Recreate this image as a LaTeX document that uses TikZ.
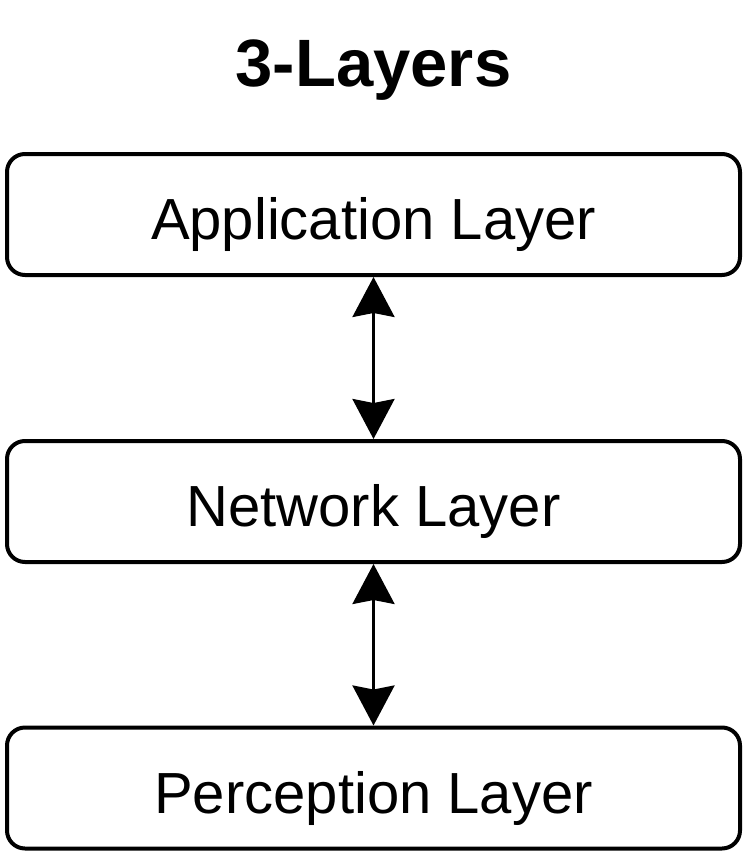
\documentclass[tikz,border=0pt]{standalone}
\usepackage{fontspec}
\setmainfont{Liberation Sans}
\usetikzlibrary{arrows.meta}
\begin{document}
\begin{tikzpicture}[x=1pt,y=1pt,
  layerbox/.style={draw, line width=4pt, rounded corners=18pt,
    minimum width=733pt, minimum height=121pt, inner sep=0pt,
    text height=50pt, text depth=0pt,
    font=\fontsize{58}{62}\selectfont},
  link/.style={line width=3pt, {Stealth[length=40pt,width=42pt,inset=4pt]}-{Stealth[length=40pt,width=42pt,inset=4pt]}}]
  % Rahmen
  \useasboundingbox (0,0) rectangle (747,-856);
  % Titel
  \node[anchor=base, font=\fontsize{67}{70}\selectfont\bfseries] (title) at (373.5,-87) {3-Layers};
  % drei Schichten
  \node[layerbox] (app) at (373.5,-214.5) {Application Layer};
  \node[layerbox] (net) at (373.5,-501.5) {Network Layer};
  \node[layerbox] (per) at (373.5,-788) {Perception Layer};
  % Pfeile zwischen den Schichten
  \draw[link] (app.south) -- (net.north);
  \draw[link] (net.south) -- (per.north);
\end{tikzpicture}
\end{document}
